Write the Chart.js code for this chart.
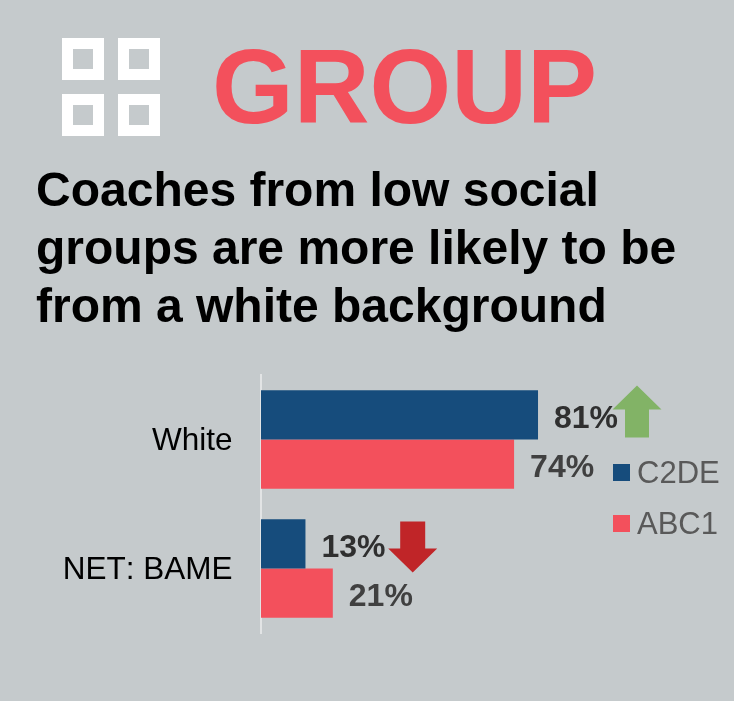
<!DOCTYPE html>
<html><head><meta charset="utf-8">
<style>
html,body{margin:0;padding:0;background:#c5cacc;}
canvas{display:block;}
</style>
<script src="https://cdn.jsdelivr.net/npm/chart.js@4"></script>
</head><body>
<div style="position:relative;width:734px;height:701px;overflow:hidden">
<canvas id="c" width="734" height="701"></canvas>
</div>
<script>
const categories = ['White', 'NET: BAME'];
const c2de = [81, 13];
const abc1 = [74, 21];
const seriesNames = ['C2DE', 'ABC1'];
const headingWord = 'GROUP';
const headline = ['Coaches from low social', 'groups are more likely to be', 'from a white background'];
const arrowDirections = ['up', 'down'];

const NAVY = '#164c7c', CORAL = '#f3505c', PAPER = '#c5cacc';
const FONT = '"Liberation Sans", Arial, sans-serif';

// Heading, icon, headline, legend and trend arrows are drawn around the bars.
const decorations = {
  id: 'decorations',
  afterDraw(chart) {
    const ctx = chart.ctx;
    ctx.save();
    // four-tile icon
    [[62, 38], [118, 38], [62, 94], [118, 94]].forEach(([x, y]) => {
      ctx.fillStyle = '#ffffff';
      ctx.fillRect(x, y, 42, 42);
      ctx.fillStyle = PAPER;
      ctx.fillRect(x + 11, y + 11, 20, 20);
    });
    ctx.textBaseline = 'alphabetic';
    ctx.fontKerning = 'none';
    ctx.fillStyle = CORAL;
    ctx.font = 'bold 105px ' + FONT;
    ctx.fillText(headingWord, 212, 123);
    ctx.fillStyle = '#000000';
    ctx.font = 'bold 48px ' + FONT;
    headline.forEach((t, i) => ctx.fillText(t, 36, 206 + i * 58));

    // legend
    ctx.font = '31px ' + FONT;
    [NAVY, CORAL].forEach((col, i) => {
      const y = 464 + i * 51;
      ctx.fillStyle = col;
      ctx.fillRect(613, y, 17, 17);
      ctx.fillStyle = '#595959';
      ctx.fillText(seriesNames[i], 637, y + 19);
    });

    // category names, right-aligned against the axis
    const yS = chart.scales.y;
    ctx.font = '31.5px ' + FONT;
    ctx.fillStyle = '#000000';
    ctx.textAlign = 'right';
    ctx.textBaseline = 'middle';
    categories.forEach((name, i) => {
      ctx.fillText(name, yS.right - 28.5, yS.getPixelForValue(i) + 2);
    });
    ctx.textAlign = 'left';

    // trend arrows placed from the category scale
    arrowDirections.forEach((d, i) => {
      const cy = yS.getPixelForValue(i);
      if (d === 'up') {
        ctx.fillStyle = '#82b366';
        const t = cy - 54, cx = 637;
        ctx.beginPath();
        ctx.moveTo(cx, t); ctx.lineTo(cx + 24.5, t + 24); ctx.lineTo(cx + 12, t + 24);
        ctx.lineTo(cx + 12, t + 52); ctx.lineTo(cx - 12, t + 52); ctx.lineTo(cx - 12, t + 24);
        ctx.lineTo(cx - 24.5, t + 24); ctx.closePath(); ctx.fill();
      } else {
        ctx.fillStyle = '#c02528';
        const t = cy - 47, cx = 412.7;
        ctx.beginPath();
        ctx.moveTo(cx - 12.5, t); ctx.lineTo(cx + 12.5, t); ctx.lineTo(cx + 12.5, t + 27);
        ctx.lineTo(cx + 24.5, t + 27); ctx.lineTo(cx, t + 51); ctx.lineTo(cx - 24.5, t + 27);
        ctx.lineTo(cx - 12.5, t + 27); ctx.closePath(); ctx.fill();
      }
    });
    ctx.restore();
  }
};

// Percent labels just past each bar's end.
const valueLabels = {
  id: 'valueLabels',
  afterDatasetsDraw(chart) {
    const ctx = chart.ctx;
    ctx.save();
    ctx.font = 'bold 32px ' + FONT;
    ctx.textBaseline = 'middle';
    chart.data.datasets.forEach((ds, di) => {
      ctx.fillStyle = di === 0 ? '#2f2f2f' : '#404040';
      chart.getDatasetMeta(di).data.forEach((bar, i) => {
        ctx.fillText(ds.data[i] + '%', bar.x + 16, bar.y + 4);
      });
    });
    ctx.restore();
  }
};

new Chart(document.getElementById('c'), {
  type: 'bar',
  data: {
    labels: categories,
    datasets: [
      { label: seriesNames[0], data: c2de, backgroundColor: NAVY, categoryPercentage: 0.765, barPercentage: 1 },
      { label: seriesNames[1], data: abc1, backgroundColor: CORAL, categoryPercentage: 0.765, barPercentage: 1 }
    ]
  },
  options: {
    indexAxis: 'y',
    responsive: false,
    animation: false,
    layout: { padding: { left: 0, top: 375, right: 131, bottom: 68 } },
    plugins: { legend: { display: false }, tooltip: { enabled: false } },
    scales: {
      x: { display: false, min: 0, max: 100 },
      y: {
        afterFit(scale) { scale.width = 261; },
        grid: { display: false, drawTicks: false },
        border: { color: '#e2e4e5', width: 2 },
        ticks: { display: false },
      }
    }
  },
  plugins: [decorations, valueLabels]
});
</script>
</body></html>
